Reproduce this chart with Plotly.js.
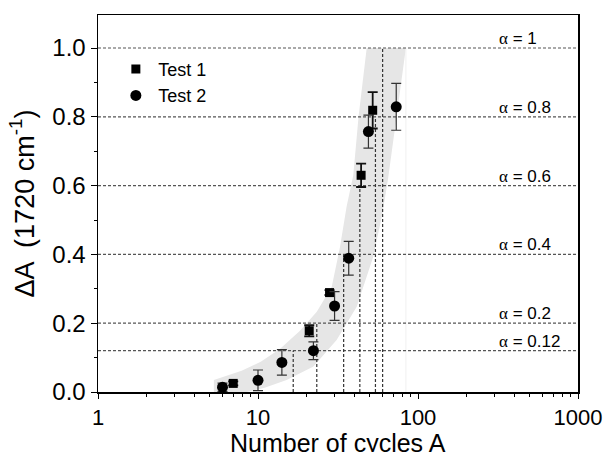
<!DOCTYPE html>
<html>
<head>
<meta charset="utf-8">
<script src="https://cdn.plot.ly/plotly-3.0.1.min.js"></script>
<style>html,body{margin:0;padding:0;background:#fff;}#chart{width:606px;height:452px;}</style>
</head>
<body>
<div id="chart"></div>
<script>
// Test 1 (squares)
const test1X = [7.0, 20.9, 28.0, 44.1, 52.1];
const test1Y = [0.025, 0.178, 0.289, 0.630, 0.819];
const test1Err = [0.006, 0.016, 0.007, 0.034, 0.053];
// Test 2 (circles)
const test2X = [6.0, 10.0, 14.1, 22.2, 30.1, 36.9, 49.0, 73.1];
const test2Y = [0.014, 0.034, 0.086, 0.120, 0.250, 0.389, 0.757, 0.829];
const test2Err = [0.012, 0.030, 0.037, 0.026, 0.042, 0.049, 0.048, 0.068];
// alpha levels and corresponding cycle numbers
const alphaLevels = [0.12, 0.2, 0.4, 0.6, 0.8, 1.0];
const alphaLabels = ["0.12", "0.2", "0.4", "0.6", "0.8", "1"];
const dropX = [16.6, 23.3, 34.3, 43.3, 54.2, 60.1];
// shaded band edges
const bandUpperX = [5.3, 7.9, 10.4, 13.7, 18.3, 23.3, 28.9, 32.5, 35.8, 39.4, 42.5, 47.8];
const bandUpperY = [0.035, 0.062, 0.088, 0.125, 0.178, 0.233, 0.306, 0.42, 0.539, 0.63, 0.8, 1.0];
const bandLowerX = [5.3, 8.5, 11.0, 15.1, 22.2, 31.0, 41.4, 52.5, 60.0, 65.0, 73.5, 84.0];
const bandLowerY = [0.0, 0.0, 0.012, 0.035, 0.074, 0.151, 0.248, 0.393, 0.52, 0.62, 0.8, 1.0];
// x tick labels
const xTickVals = [1, 10, 100, 1000];
const xTickText = ["1", "10", "100", "1000"];
const xTitle = "Number of cycles A";
const yTitle = "ΔA  (1720 cm<sup>-1</sup>)";

const FONT = "Liberation Sans, Arial, sans-serif";
const traces = [];

// band polygon
const bandX = bandUpperX.concat(bandLowerX.slice().reverse());
const bandY = bandUpperY.concat(bandLowerY.slice().reverse());
traces.push({x: bandX, y: bandY, type: "scatter", mode: "lines", fill: "toself",
  fillcolor: "#e6e6e6", line: {width: 0, color: "rgba(0,0,0,0)"}, showlegend: false, hoverinfo: "skip"});
// faint edge line
traces.push({x: [bandLowerX[bandLowerX.length-1], bandLowerX[bandLowerX.length-1]], y: [0, 1.0],
  type: "scatter", mode: "lines", line: {width: 1, color: "#f0f0f0"}, showlegend: false, hoverinfo: "skip"});

// horizontal alpha lines
alphaLevels.forEach(a => {
  traces.push({x: [xTickVals[0], xTickVals[xTickVals.length-1]], y: [a, a], type: "scatter", mode: "lines",
    line: {width: 1.2, color: "#555", dash: "3px,2px"}, showlegend: false, hoverinfo: "skip"});
});
// vertical drop lines
dropX.forEach((xv, i) => {
  traces.push({x: [xv, xv], y: [0, alphaLevels[i]], type: "scatter", mode: "lines",
    line: {width: 1.2, color: "#333", dash: "3px,2px"}, showlegend: false, hoverinfo: "skip"});
});

traces.push({x: test1X, y: test1Y, type: "scatter", mode: "markers", name: "Test 1",
  marker: {symbol: "square", size: 9, color: "#000"},
  error_y: {type: "data", array: test1Err, visible: true, color: "#111", thickness: 1.8, width: 5}});
traces.push({x: test2X, y: test2Y, type: "scatter", mode: "markers", name: "Test 2",
  marker: {symbol: "circle", size: 11, color: "#000"},
  error_y: {type: "data", array: test2Err, visible: true, color: "#333", thickness: 1.2, width: 5}});

const annotations = alphaLevels.map((a, i) => ({
  xref: "paper", yref: "y", x: 0.831, y: a, xanchor: "left", yanchor: "bottom", yshift: -2,
  text: '<span style="font-family:Liberation Serif">α</span> = ' + alphaLabels[i],
  showarrow: false, font: {family: FONT, size: 17, color: "#000"}
}));
// x-axis title placed as an annotation for exact vertical position
annotations.push({xref: "paper", yref: "paper", x: 0.5, y: 0, xanchor: "center", yanchor: "top",
  yshift: -35, text: xTitle, showarrow: false, font: {family: FONT, size: 25, color: "#000"}});

const layout = {
  width: 606, height: 452,
  margin: {l: 98, r: 28, t: 15, b: 60},
  paper_bgcolor: "#fff", plot_bgcolor: "#fff",
  font: {family: FONT, color: "#000"},
  showlegend: true,
  legend: {x: 0.032, y: 0.905, xanchor: "left", yanchor: "top", bgcolor: "rgba(0,0,0,0)",
    font: {family: FONT, size: 18, color: "#000"}, tracegroupgap: 0, itemwidth: 35},
  xaxis: {type: "log", range: [0, 3], tickvals: xTickVals, ticktext: xTickText,
    ticks: "outside", ticklen: 5, tickwidth: 1, tickcolor: "#000",
    minor: {tickvals: [2,3,4,5,6,7,8,9,20,30,40,50,60,70,80,90,200,300,400,500,600,700,800,900], ticks: "outside", ticklen: 3, tickcolor: "#000"},
    showline: true, linecolor: "#000", linewidth: 1.5, mirror: true, showgrid: false, zeroline: false,
    tickfont: {family: FONT, size: 22, color: "#000"}},
  yaxis: {range: [0, 1.096], tickvals: [0, 0.2, 0.4, 0.6, 0.8, 1.0], tickformat: ".1f",
    ticks: "outside", ticklen: 6, tickwidth: 1, tickcolor: "#000",
    minor: {tickvals: [0.1, 0.3, 0.5, 0.7, 0.9], ticks: "outside", ticklen: 3, tickcolor: "#000"},
    showline: true, linecolor: "#000", linewidth: 1.5, mirror: true, showgrid: false, zeroline: false,
    tickfont: {family: FONT, size: 24, color: "#000"},
    title: {text: yTitle, font: {family: FONT, size: 27, color: "#000"}}},
  annotations: annotations
};

Plotly.newPlot("chart", traces, layout, {displayModeBar: false, staticPlot: true});
</script>
</body>
</html>
